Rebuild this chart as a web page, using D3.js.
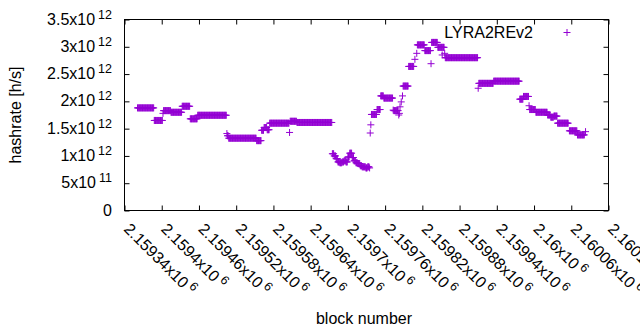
<!DOCTYPE html>
<html>
<head>
<meta charset="utf-8">
<script src="https://cdn.jsdelivr.net/npm/d3@7"></script>
<style>
    body { margin: 0; background: #fff; }
    svg { display: block; font-family: "Liberation Sans", Arial, sans-serif; }
</style>
</head>
<body>
<svg id="chart" width="640" height="330"></svg>
<script>
"use strict";

//  Data  ---
//  runs of blocks reporting the same hashrate (units of 1e12 h/s)
var runFirst = [2159361, 2159388, 2159402, 2159403, 2159415, 2159433, 2159446, 2159458, 2159505, 2159506,
    2159508, 2159553, 2159561, 2159565, 2159570, 2159574, 2159606, 2159607, 2159618,
    2159675, 2159678, 2159681, 2159684, 2159687, 2159691, 2159694, 2159697, 2159700, 2159703,
    2159707, 2159710, 2159713, 2159716, 2159720, 2159723, 2159726, 2159729, 2159732, 2159735,
    2159736, 2159737, 2159738, 2159747, 2159753, 2159758, 2159773, 2159774, 2159782, 2159783,
    2159784, 2159786, 2159788, 2159789, 2159798, 2159808, 2159811, 2159812, 2159824, 2159834,
    2159835, 2159845, 2159852, 2159856, 2159857, 2159910, 2159911, 2159935, 2159977, 2159983,
    2159992, 2159993, 2160003, 2160022, 2160027, 2160032, 2160038, 2160057, 2160070, 2160083];
var runLast = [2159387, 2159401, 2159402, 2159414, 2159432, 2159445, 2159457, 2159504, 2159505, 2159507,
    2159552, 2159560, 2159564, 2159569, 2159573, 2159605, 2159606, 2159617, 2159674,
    2159677, 2159680, 2159683, 2159686, 2159690, 2159693, 2159696, 2159699, 2159702, 2159706,
    2159709, 2159712, 2159715, 2159719, 2159722, 2159725, 2159728, 2159731, 2159734, 2159735,
    2159736, 2159737, 2159746, 2159752, 2159757, 2159772, 2159773, 2159781, 2159782, 2159783,
    2159784, 2159786, 2159788, 2159797, 2159806, 2159808, 2159811, 2159823, 2159833, 2159834,
    2159844, 2159855, 2159852, 2159856, 2159909, 2159910, 2159934, 2159976, 2159982, 2159991,
    2159992, 2160002, 2160021, 2160026, 2160031, 2160037, 2160055, 2160069, 2160081, 2160083];
var runRate = [1.88, 1.65, 1.78, 1.83, 1.80, 1.91, 1.68, 1.745, 1.41, 1.37,
    1.325, 1.28, 1.47, 1.52, 1.48, 1.60, 1.43, 1.635, 1.613,
    1.04, 1.00, 0.95, 0.89, 0.875, 0.89, 0.91, 0.89, 0.98, 1.05,
    0.97, 0.91, 0.875, 0.86, 0.82, 0.80, 0.80, 0.78, 0.80, 0.78,
    1.42, 1.57, 1.76, 1.85, 2.10, 2.06, 1.84, 1.83, 1.75, 1.78,
    1.90, 1.99, 2.10, 2.28, 2.64, 2.77, 2.88, 3.035, 2.93, 2.69,
    3.08, 2.99, 2.85, 2.88, 2.80, 2.24, 2.33, 2.37, 2.04, 2.09,
    1.92, 1.85, 1.80, 1.75, 1.71, 1.73, 1.60, 1.46, 1.385, 1.445];

var xTicks = [2159340, 2159400, 2159460, 2159520, 2159580, 2159640, 2159700,
    2159760, 2159820, 2159880, 2159940, 2160000, 2160060, 2160120];
var yTicks = [0, 0.5e12, 1e12, 1.5e12, 2e12, 2.5e12, 3e12, 3.5e12];
var seriesName = "LYRA2REv2";

//  Layout  ---
var plotLeft = 124.5, plotRight = 608.5, plotTop = 19.5, plotBottom = 210.5;
var color = "#9400d3";
var fontSize = 16, supSize = 12.5;
var plusHalf = 3.5;

var svg = d3.select("#chart");

var x = d3.scaleLinear().domain([xTicks[0], xTicks[xTicks.length - 1]]).range([plotLeft, plotRight]);
var y = d3.scaleLinear().domain([0, 3.5e12]).range([plotBottom, plotTop]);

var points = [];
runFirst.forEach(function (first, i) {
    for (var b = first; b <= runLast[i]; ++b) {
        points.push([b, runRate[i] * 1e12]);
    }
});

function plusPath(px, py) {
    return "M" + (px - plusHalf) + "," + py + "h" + (2 * plusHalf) +
        "M" + px + "," + (py - plusHalf) + "v" + (2 * plusHalf);
}

//  Axes (ticks inside, mirrored)  ---
function ticksOnly(g) {
    g.select(".domain").remove();
    g.selectAll(".tick text").remove();
    g.selectAll(".tick line").attr("stroke", "#000");
}
svg.append("g").attr("transform", "translate(0," + plotBottom + ")")
    .call(d3.axisBottom(x).tickValues(xTicks).tickSize(-5)).call(ticksOnly);
svg.append("g").attr("transform", "translate(0," + plotTop + ")")
    .call(d3.axisTop(x).tickValues(xTicks).tickSize(-5)).call(ticksOnly);
svg.append("g").attr("transform", "translate(" + plotLeft + ",0)")
    .call(d3.axisLeft(y).tickValues(yTicks).tickSize(-5)).call(ticksOnly);
svg.append("g").attr("transform", "translate(" + plotRight + ",0)")
    .call(d3.axisRight(y).tickValues(yTicks).tickSize(-5)).call(ticksOnly);

svg.append("rect")
    .attr("x", plotLeft).attr("y", plotTop)
    .attr("width", plotRight - plotLeft).attr("height", plotBottom - plotTop)
    .attr("fill", "none").attr("stroke", "#000").attr("stroke-width", 1);

//  Y tick labels  ---
svg.append("g").selectAll("text").data(yTicks).enter().append("text")
    .attr("x", 112).attr("y", function (d) { return y(d) + 5; })
    .attr("text-anchor", "end").attr("font-size", fontSize)
    .each(function (d) {
        var t = d3.select(this);
        if (d === 0) {
            t.text("0");
            return;
        }
        var e = Math.floor(Math.log10(d));
        var m = +(d / Math.pow(10, e)).toFixed(3);
        t.append("tspan").text(m + "x10");
        t.append("tspan").attr("font-size", supSize).attr("dx", 3).attr("dy", -6).text(e);
    });

//  X tick labels (rotated)  ---
svg.append("g").selectAll("text").data(xTicks).enter().append("text")
    .attr("transform", function (d) { return "translate(" + (x(d) - 1.5) + "," + 230 + ")rotate(45)"; })
    .attr("font-size", fontSize)
    .each(function (d) {
        var t = d3.select(this);
        t.append("tspan").text(String(+(d / 1e6).toFixed(5)) + "x10");
        t.append("tspan").attr("font-size", supSize).attr("dx", 3).attr("dy", -6).text("6");
    });

//  Axis titles  ---
svg.append("text")
    .attr("transform", "translate(21," + ((plotTop + plotBottom) / 2) + ")rotate(-90)")
    .attr("text-anchor", "middle").attr("font-size", fontSize)
    .text("hashrate [h/s]");
svg.append("text")
    .attr("x", 364).attr("y", 324)
    .attr("text-anchor", "middle").attr("font-size", fontSize)
    .text("block number");

//  Points  ---
svg.append("g").selectAll("path").data(points).enter().append("path")
    .attr("d", function (d) { return plusPath(x(d[0]), y(d[1])); })
    .attr("fill", "none").attr("stroke", color).attr("stroke-width", 1);

//  Legend  ---
svg.append("text")
    .attr("x", 533).attr("y", 37.5)
    .attr("text-anchor", "end").attr("font-size", fontSize)
    .text(seriesName);
svg.append("path")
    .attr("d", plusPath(567, 32.5))
    .attr("fill", "none").attr("stroke", color).attr("stroke-width", 1);
</script>
</body>
</html>
